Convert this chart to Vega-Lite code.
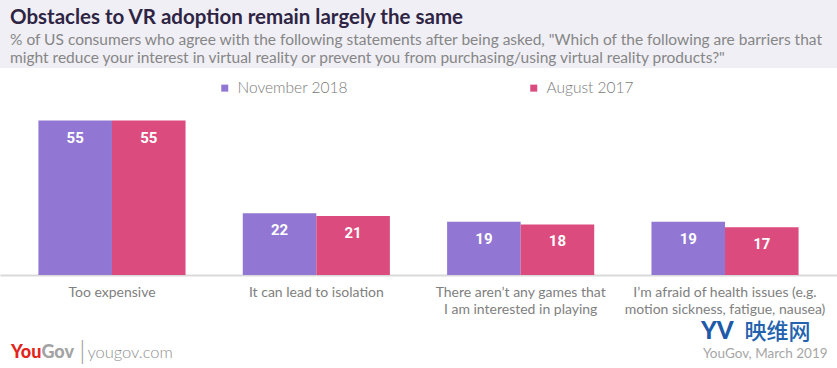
{
  "$schema": "https://vega.github.io/schema/vega-lite/v6.json",
  "width": 837,
  "height": 275,
  "autosize": {"type": "none"},
  "padding": {"left": 0, "top": 0, "right": 0, "bottom": 93},
  "background": "white",
  "config": {"view": {"stroke": null}, "font": "Lato"},
  "title": {
    "text": "Obstacles to VR adoption remain largely the same",
    "subtitle": [
      "% of US consumers who agree with the following statements after being asked, \"Which of the following are barriers that",
      "might reduce your interest in virtual reality or prevent you from purchasing/using virtual reality products?\""
    ],
    "anchor": "start",
    "frame": "group",
    "orient": "top",
    "offset": -66,
    "dx": 10,
    "font": "Lato",
    "fontSize": 20.5,
    "fontWeight": "bold",
    "color": "#2e2444",
    "subtitleFont": "Lato",
    "subtitleFontSize": 15.5,
    "subtitleColor": "#868686",
    "subtitlePadding": 4,
    "subtitleLineHeight": 18
  },
  "data": {
    "values": [
      {"category": "Too expensive", "series": "November 2018", "value": 55},
      {"category": "Too expensive", "series": "August 2017", "value": 55},
      {"category": "It can lead to isolation", "series": "November 2018", "value": 22},
      {"category": "It can lead to isolation", "series": "August 2017", "value": 21},
      {"category": "There aren’t any games that|I am interested in playing", "series": "November 2018", "value": 19},
      {"category": "There aren’t any games that|I am interested in playing", "series": "August 2017", "value": 18},
      {"category": "I’m afraid of health issues (e.g.|motion sickness, fatigue, nausea)", "series": "November 2018", "value": 19},
      {"category": "I’m afraid of health issues (e.g.|motion sickness, fatigue, nausea)", "series": "August 2017", "value": 17}
    ]
  },
  "layer": [
    {
      "data": {"values": [{}]},
      "mark": {"type": "rect", "color": "#f0eff5"},
      "encoding": {
        "y": {"datum": 73.7, "type": "quantitative", "scale": {"domain": [0, 97.9], "nice": false, "zero": true}, "axis": null},
        "y2": {"datum": 97.9}
      }
    },
    {
      "mark": {"type": "bar"},
      "encoding": {
        "x": {
          "field": "category", "type": "nominal", "title": null,
          "scale": {"domain": ["Too expensive", "It can lead to isolation", "There aren’t any games that|I am interested in playing", "I’m afraid of health issues (e.g.|motion sickness, fatigue, nausea)"], "paddingInner": 0.28, "paddingOuter": 0.188},
          "axis": {"domainColor": "#d9d9d9", "domainWidth": 2, "ticks": false, "labelFont": "Lato", "labelFontSize": 14, "labelColor": "#808080", "labelPadding": 10, "labelLineHeight": 17, "labelAngle": 0, "labelLimit": 300, "labelExpr": "split(datum.label, '|')", "grid": false}
        },
        "xOffset": {"field": "series", "type": "nominal", "sort": ["November 2018", "August 2017"], "scale": {"paddingInner": 0, "paddingOuter": 0}},
        "y": {"field": "value", "type": "quantitative", "scale": {"domain": [0, 97.9], "nice": false, "zero": true}, "axis": null},
        "color": {
          "field": "series", "type": "nominal",
          "scale": {"domain": ["November 2018", "August 2017"], "range": ["#9177d3", "#db4b7e"]},
          "legend": {"orient": "none", "legendX": 217, "legendY": 80, "direction": "horizontal", "title": null, "symbolType": "square", "symbolSize": 49, "symbolStrokeWidth": 0, "symbolOpacity": 1, "labelFont": "Lato", "labelFontSize": 15.5, "labelFontWeight": 300, "labelColor": "#7a7a7a", "labelOffset": 5, "columnPadding": 178, "padding": 0}
        }
      }
    },
    {
      "mark": {"type": "text", "baseline": "middle", "dy": 17, "fill": "white", "font": "Roboto", "fontSize": 15, "fontWeight": "bold"},
      "encoding": {
        "x": {"field": "category", "type": "nominal", "title": null},
        "xOffset": {"field": "series", "type": "nominal", "sort": ["November 2018", "August 2017"]},
        "y": {"field": "value", "type": "quantitative"},
        "text": {"field": "value", "type": "quantitative"}
      }
    },
    {
      "data": {"values": [{}]},
      "mark": {"type": "text", "text": "You", "align": "right", "baseline": "alphabetic", "font": "Lato", "fontSize": 18, "fontWeight": 900, "fill": "#e3241b", "dx": 3},
      "encoding": {
        "x": {"datum": "Too expensive", "type": "nominal", "bandPosition": 0, "title": null},
        "y": {"datum": -29.5, "type": "quantitative"}
      }
    },
    {
      "data": {"values": [{}]},
      "mark": {"type": "text", "text": "Gov", "align": "left", "baseline": "alphabetic", "font": "Lato", "fontSize": 18, "fontWeight": 900, "fill": "#a3a3a3", "dx": 3},
      "encoding": {
        "x": {"datum": "Too expensive", "type": "nominal", "bandPosition": 0, "title": null},
        "y": {"datum": -29.5, "type": "quantitative"}
      }
    },
    {
      "data": {"values": [{}]},
      "mark": {"type": "text", "text": "|", "align": "center", "baseline": "alphabetic", "font": "Lato", "fontSize": 26, "fontWeight": 300, "fill": "#9a9a9a", "dx": 44},
      "encoding": {
        "x": {"datum": "Too expensive", "type": "nominal", "bandPosition": 0, "title": null},
        "y": {"datum": -29.9, "type": "quantitative"}
      }
    },
    {
      "data": {"values": [{}]},
      "mark": {"type": "text", "text": "yougov.com", "align": "left", "baseline": "alphabetic", "font": "Lato", "fontSize": 16.5, "fontWeight": 300, "fill": "#8f8f8f", "dx": 49},
      "encoding": {
        "x": {"datum": "Too expensive", "type": "nominal", "bandPosition": 0, "title": null},
        "y": {"datum": -29.5, "type": "quantitative"}
      }
    },
    {
      "data": {"values": [{}]},
      "mark": {"type": "text", "text": "YouGov, March 2019", "align": "right", "baseline": "alphabetic", "font": "Lato", "fontSize": 13.5, "fill": "#a6a6a6", "dx": 29},
      "encoding": {
        "x": {"datum": "I’m afraid of health issues (e.g.|motion sickness, fatigue, nausea)", "type": "nominal", "bandPosition": 1, "title": null},
        "y": {"datum": -29.55, "type": "quantitative"}
      }
    },
    {
      "data": {"values": [{}]},
      "mark": {"type": "text", "text": "映维网", "align": "right", "baseline": "alphabetic", "font": "Noto Sans CJK SC", "fontSize": 22, "fontWeight": 500, "fill": "#2462ae", "dx": 12},
      "encoding": {
        "x": {"datum": "I’m afraid of health issues (e.g.|motion sickness, fatigue, nausea)", "type": "nominal", "bandPosition": 1, "title": null},
        "y": {"datum": -22.9, "type": "quantitative"}
      }
    },
    {
      "data": {"values": [{}]},
      "mark": {"type": "text", "text": "YV", "align": "right", "baseline": "alphabetic", "font": "Lato", "fontSize": 24, "fontWeight": 900, "fill": "#1e5aa8", "dx": -65},
      "encoding": {
        "x": {"datum": "I’m afraid of health issues (e.g.|motion sickness, fatigue, nausea)", "type": "nominal", "bandPosition": 1, "title": null},
        "y": {"datum": -22.9, "type": "quantitative"}
      }
    }
  ]
}
